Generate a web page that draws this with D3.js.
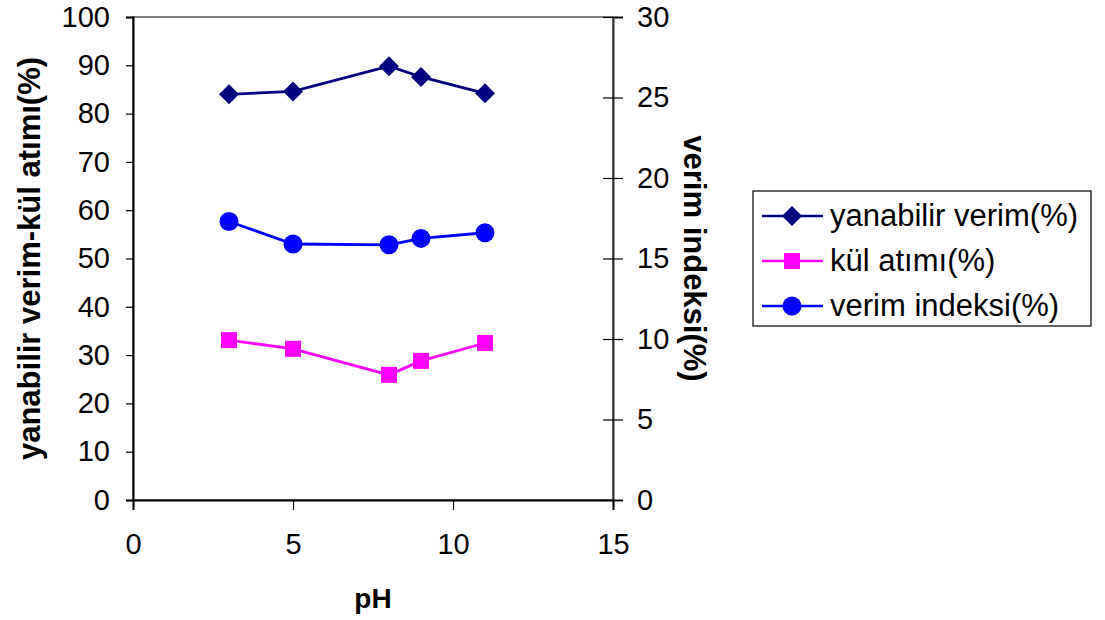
<!DOCTYPE html>
<html>
<head>
<meta charset="utf-8">
<script src="https://cdn.jsdelivr.net/npm/d3@7"></script>
<style>
  body { margin: 0; background: #fff; }
  svg { font-family: "Liberation Sans", Arial, sans-serif; }
</style>
</head>
<body>
<script>
// Data
var pH = [3, 5, 8, 9, 11];
var yanabilir = [84.0, 84.6, 89.8, 87.6, 84.2];   // left axis
var kulAtimi = [33.1, 31.3, 25.9, 28.8, 32.5];    // left axis
var verimIndeksi = [17.3, 15.9, 15.85, 16.25, 16.6]; // right axis
var leftTicks = [0, 10, 20, 30, 40, 50, 60, 70, 80, 90, 100];
var rightTicks = [0, 5, 10, 15, 20, 25, 30];
var xTicks = [0, 5, 10, 15];
var seriesNames = ["yanabilir verim(%)", "kül atımı(%)", "verim indeksi(%)"];

var W = 1105, H = 620;
var plotL = 133, plotR = 613, plotT = 17, plotB = 500;

var svg = d3.select("body").append("svg")
    .attr("width", W)
    .attr("height", H);

var x = d3.scaleLinear().domain([0, 15]).range([plotL, plotR]);
var yL = d3.scaleLinear().domain([0, 100]).range([plotB, plotT]);
var yR = d3.scaleLinear().domain([0, 30]).range([plotB, plotT]);

// plot area border (gray)
svg.append("rect")
    .attr("x", plotL).attr("y", plotT)
    .attr("width", plotR - plotL).attr("height", plotB - plotT)
    .attr("fill", "none")
    .attr("stroke", "#808080")
    .attr("stroke-width", 2);

// left axis
var axL = svg.append("g")
    .attr("transform", "translate(" + plotL + ",0)")
    .call(d3.axisLeft(yL).tickValues(leftTicks).tickSize(7).tickPadding(16));
// right axis, ticks cross the line
var axR = svg.append("g")
    .attr("transform", "translate(" + plotR + ",0)")
    .call(d3.axisRight(yR).tickValues(rightTicks).tickSize(10).tickPadding(14));
axR.selectAll(".tick line").attr("x1", -10);
// bottom axis
var axB = svg.append("g")
    .attr("transform", "translate(0," + plotB + ")")
    .call(d3.axisBottom(x).tickValues(xTicks).tickSize(10).tickPadding(23));

[axL, axR, axB].forEach(function(a) {
  a.select(".domain").attr("stroke", "#000").attr("stroke-width", 2);
  a.selectAll(".tick line").attr("stroke", "#000").attr("stroke-width", 1.2);
  a.selectAll(".tick text")
      .attr("fill", "#000")
      .style("font-size", "29px")
      .style("font-family", "'Liberation Sans', Arial, sans-serif");
});
axR.select(".domain").attr("stroke", "#333");

// axis titles
svg.append("text")
    .attr("transform", "translate(40," + ((plotT + plotB) / 2) + ") rotate(-90)")
    .attr("text-anchor", "middle")
    .style("font-size", "31px")
    .style("font-weight", "bold")
    .text("yanabilir verim-kül atımı(%)");

svg.append("text")
    .attr("transform", "translate(684," + ((plotT + plotB) / 2) + ") rotate(90)")
    .attr("text-anchor", "middle")
    .style("font-size", "31px")
    .style("font-weight", "bold")
    .text("verim indeksi(%)");

svg.append("text")
    .attr("x", 373)
    .attr("y", 608)
    .attr("text-anchor", "middle")
    .style("font-size", "28px")
    .style("font-weight", "bold")
    .text("pH");

// series
var series = [
  {name: seriesNames[0], vals: yanabilir, y: yL, color: "#000080", shape: "diamond"},
  {name: seriesNames[1], vals: kulAtimi, y: yL, color: "#FF00FF", shape: "square"},
  {name: seriesNames[2], vals: verimIndeksi, y: yR, color: "#0000FF", shape: "circle"}
];

function marker(g, shape, color) {
  if (shape === "diamond") {
    g.append("path").attr("d", "M0,-10L10,0L0,10L-10,0Z").attr("fill", color);
  } else if (shape === "square") {
    g.append("rect").attr("x", -8).attr("y", -8).attr("width", 16).attr("height", 16).attr("fill", color);
  } else {
    g.append("circle").attr("r", 9.5).attr("fill", color);
  }
}

series.forEach(function(s) {
  var line = d3.line()
      .x(function(d, i) { return x(pH[i]); })
      .y(function(d) { return s.y(d); });
  svg.append("path")
      .datum(s.vals)
      .attr("d", line)
      .attr("fill", "none")
      .attr("stroke", s.color)
      .attr("stroke-width", 2.8);
  s.vals.forEach(function(v, i) {
    var g = svg.append("g")
        .attr("transform", "translate(" + x(pH[i]) + "," + s.y(v) + ")");
    marker(g, s.shape, s.color);
  });
});

// legend
var lg = svg.append("g");
lg.append("rect")
    .attr("x", 753).attr("y", 191)
    .attr("width", 338).attr("height", 135)
    .attr("fill", "#fff")
    .attr("stroke", "#000")
    .attr("stroke-width", 1.2);

series.forEach(function(s, i) {
  var cy = 216 + i * 45;
  lg.append("line")
      .attr("x1", 762).attr("x2", 823)
      .attr("y1", cy).attr("y2", cy)
      .attr("stroke", s.color)
      .attr("stroke-width", 2.5);
  var g = lg.append("g").attr("transform", "translate(792," + cy + ")");
  marker(g, s.shape, s.color);
  lg.append("text")
      .attr("x", 830)
      .attr("y", cy + 10)
      .style("font-size", "31px")
      .text(s.name);
});
</script>
</body>
</html>
